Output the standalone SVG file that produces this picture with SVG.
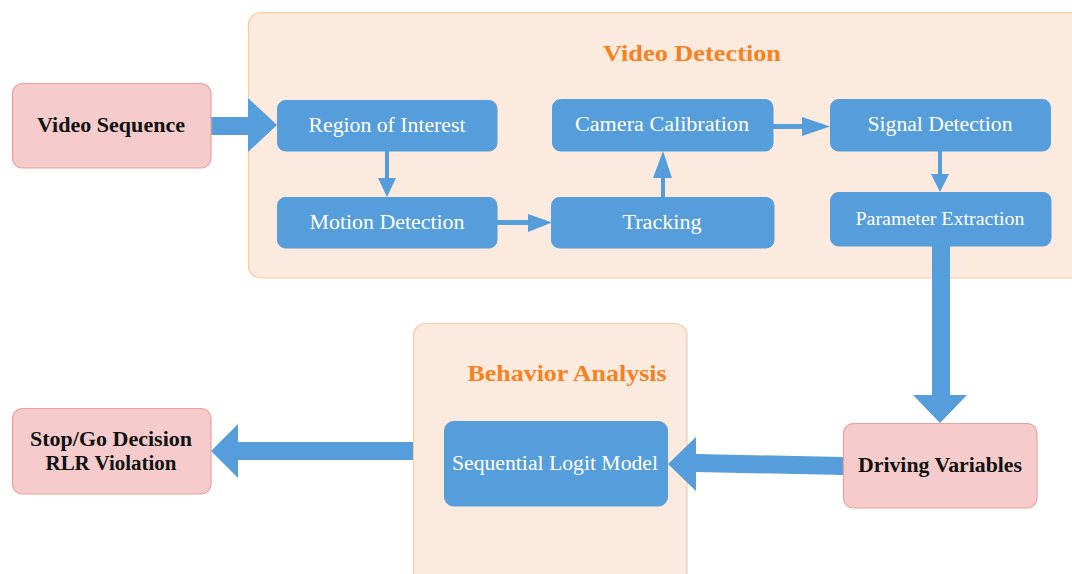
<svg xmlns="http://www.w3.org/2000/svg" width="1072" height="574" viewBox="0 0 1072 574">
<style>
.cont{fill:#fdeadf;stroke:#fcc9a0;stroke-width:1.2}
.pink{fill:#f5cccb;stroke:#ef9f9c;stroke-width:1.2}
.blue{fill:#559ddb;stroke:#559ddb;stroke-width:1}
.arr{fill:#559ddb;stroke:none}
text{font-family:"Liberation Serif","DejaVu Serif",serif;dominant-baseline:central;text-anchor:middle}
.wt{fill:#ffffff;font-size:20px}
.bt{fill:#111111;font-size:20px;font-weight:bold}
.title{fill:#f5821f;font-size:24px;font-weight:bold}
</style>
<rect width="1072" height="574" fill="#ffffff"/>
<g id="video-detection">
<rect class="cont" x="248.5" y="12.5" width="840" height="265.5" rx="12"/>
<text class="title" x="692" y="53" textLength="178" lengthAdjust="spacingAndGlyphs">Video Detection</text>
</g>
<g id="behavior-analysis">
<rect class="cont" x="413.5" y="323.5" width="273.5" height="270" rx="12"/>
<text class="title" x="567" y="373" textLength="199" lengthAdjust="spacingAndGlyphs">Behavior Analysis</text>
</g>
<g id="connectors">
<polygon class="arr" points="211,117 248,117 248,98 277,125 248,152 248,135 211,135"/>
<polygon class="arr" points="385,151 389,151 389,178 396,178 387,197 378,178 385,178"/>
<polygon class="arr" points="497,220 528,220 528,214 552,222.5 528,232 528,225 497,225"/>
<polygon class="arr" points="661,197 665,197 665,178 672,178 663,151 653,178 661,178"/>
<polygon class="arr" points="773,124 802,124 802,117 830,126.5 802,136 802,129 773,129"/>
<polygon class="arr" points="938,151 942,151 942,174 949,174 940,192 931,174 938,174"/>
<polygon class="arr" points="932,246 950,246 950,395 967,395 940,423 913,395 932,395"/>
<polygon class="arr" points="843,457 843,475 696,472 696,491 668,464 696,437 696,454"/>
<polygon class="arr" points="413,442 413,460 238,460 238,478 211,451 238,424 238,442"/>
</g>
<g id="video-sequence">
<rect class="pink" x="12.5" y="83.5" width="198.5" height="84.5" rx="10"/>
<text class="bt" x="111" y="125" textLength="148" lengthAdjust="spacingAndGlyphs">Video Sequence</text>
</g>
<g id="region-of-interest">
<rect class="blue" x="277.5" y="100.5" width="219.5" height="50.5" rx="8"/>
<text class="wt" x="387" y="125" textLength="157" lengthAdjust="spacingAndGlyphs">Region of Interest</text>
</g>
<g id="motion-detection">
<rect class="blue" x="277.5" y="197.5" width="219.5" height="50.5" rx="8"/>
<text class="wt" x="387" y="222" textLength="155" lengthAdjust="spacingAndGlyphs">Motion Detection</text>
</g>
<g id="tracking">
<rect class="blue" x="551.5" y="197.5" width="222.5" height="50.5" rx="8"/>
<text class="wt" x="662" y="222" textLength="79" lengthAdjust="spacingAndGlyphs">Tracking</text>
</g>
<g id="camera-calibration">
<rect class="blue" x="552.5" y="99.5" width="220.5" height="51.5" rx="8"/>
<text class="wt" x="662" y="124" textLength="174" lengthAdjust="spacingAndGlyphs">Camera Calibration</text>
</g>
<g id="signal-detection">
<rect class="blue" x="830.5" y="99.5" width="220" height="51.5" rx="8"/>
<text class="wt" x="940" y="124" textLength="145" lengthAdjust="spacingAndGlyphs">Signal Detection</text>
</g>
<g id="parameter-extraction">
<rect class="blue" x="830.5" y="192.5" width="220.5" height="53.5" rx="8"/>
<text class="wt" x="940" y="219" textLength="169" lengthAdjust="spacingAndGlyphs" style="font-size:18px">Parameter Extraction</text>
</g>
<g id="driving-variables">
<rect class="pink" x="843.5" y="423.5" width="193.5" height="84.5" rx="10"/>
<text class="bt" x="940" y="465" textLength="164" lengthAdjust="spacingAndGlyphs">Driving Variables</text>
</g>
<g id="sequential-logit-model">
<rect class="blue" x="444.5" y="421.5" width="223" height="84.5" rx="9"/>
<text class="wt" x="555" y="463" textLength="206" lengthAdjust="spacingAndGlyphs">Sequential Logit Model</text>
</g>
<g id="stop-go-decision">
<rect class="pink" x="12.5" y="408.5" width="198.5" height="85.5" rx="10"/>
<text class="bt" x="111" y="439" textLength="162" lengthAdjust="spacingAndGlyphs">Stop/Go Decision</text>
<text class="bt" x="111" y="463" textLength="131" lengthAdjust="spacingAndGlyphs">RLR Violation</text>
</g>
</svg>
